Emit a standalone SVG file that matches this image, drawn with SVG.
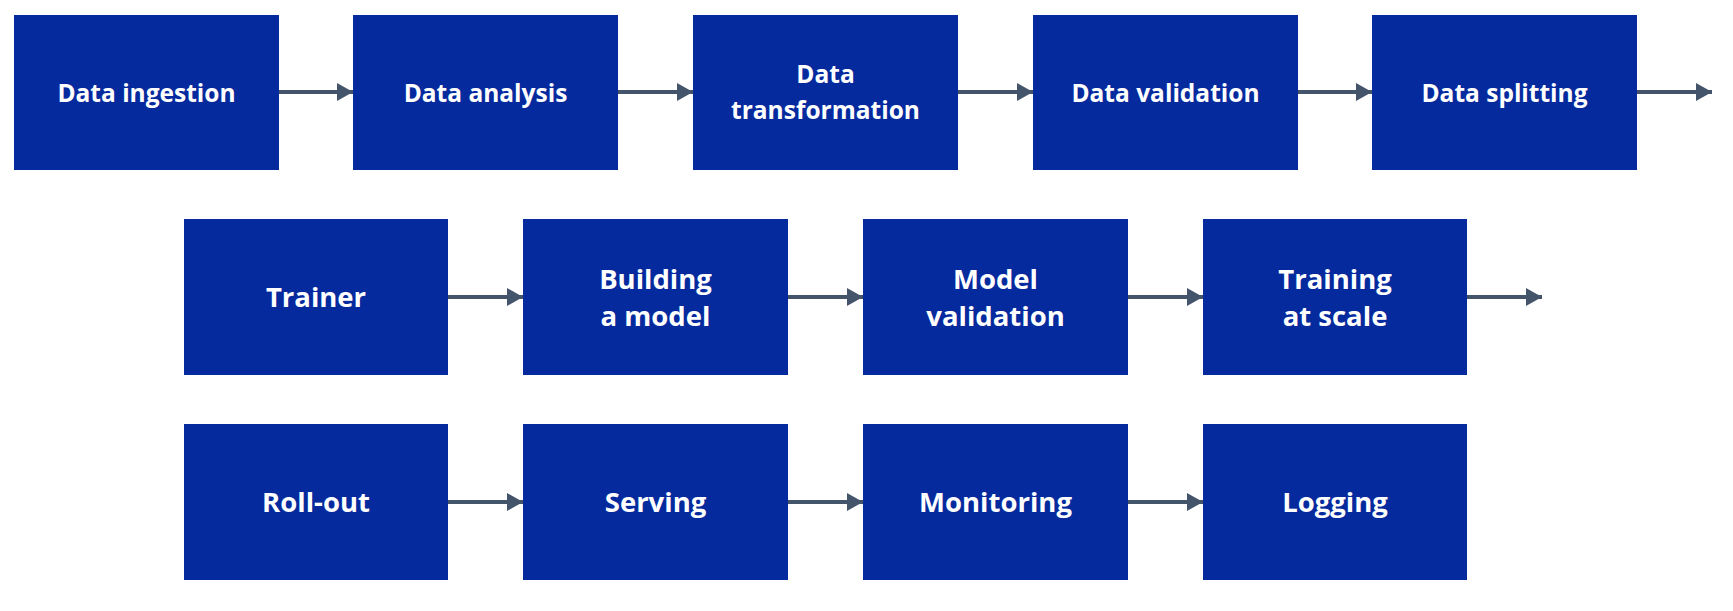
<svg xmlns="http://www.w3.org/2000/svg" width="1733" height="611" viewBox="0 0 1733 611">
<style>
.box{fill:#052A9E}
.t1{font-family:"Open Sans","Noto Sans",sans-serif;font-weight:700;font-size:24.5px;fill:#FFFFFF;text-anchor:middle}
.t2{font-family:"Open Sans","Noto Sans",sans-serif;font-weight:700;font-size:27.5px;fill:#FFFFFF;text-anchor:middle}
.c{stroke:#44546A;stroke-width:4;fill:none}
</style>
<defs>
<marker id="ah" markerUnits="userSpaceOnUse" markerWidth="16" markerHeight="18" refX="16" refY="9" orient="auto">
<polygon points="0,0 16,9 0,18" fill="#44546A"/>
</marker>
</defs>
<rect width="1733" height="611" fill="#FFFFFF"/>
<g id="connectors">
<line class="c" x1="279" y1="92" x2="353" y2="92" marker-end="url(#ah)"/>
<line class="c" x1="618" y1="92" x2="693" y2="92" marker-end="url(#ah)"/>
<line class="c" x1="958" y1="92" x2="1033" y2="92" marker-end="url(#ah)"/>
<line class="c" x1="1298" y1="92" x2="1372" y2="92" marker-end="url(#ah)"/>
<line class="c" x1="1637" y1="92" x2="1712" y2="92" marker-end="url(#ah)"/>
<line class="c" x1="448" y1="297" x2="523" y2="297" marker-end="url(#ah)"/>
<line class="c" x1="788" y1="297" x2="863" y2="297" marker-end="url(#ah)"/>
<line class="c" x1="1128" y1="297" x2="1203" y2="297" marker-end="url(#ah)"/>
<line class="c" x1="1467" y1="297" x2="1542" y2="297" marker-end="url(#ah)"/>
<line class="c" x1="448" y1="502" x2="523" y2="502" marker-end="url(#ah)"/>
<line class="c" x1="788" y1="502" x2="863" y2="502" marker-end="url(#ah)"/>
<line class="c" x1="1128" y1="502" x2="1203" y2="502" marker-end="url(#ah)"/>
</g>
<g id="n1"><rect class="box" x="14" y="15" width="265" height="155"/><text class="t1" x="146.5" y="102">Data ingestion</text></g>
<g id="n2"><rect class="box" x="353" y="15" width="265" height="155"/><text class="t1" x="485.5" y="102">Data analysis</text></g>
<g id="n3"><rect class="box" x="693" y="15" width="265" height="155"/><text class="t1" x="825.5" y="83">Data</text><text class="t1" x="825.5" y="119">transformation</text></g>
<g id="n4"><rect class="box" x="1033" y="15" width="265" height="155"/><text class="t1" x="1165.5" y="102">Data validation</text></g>
<g id="n5"><rect class="box" x="1372" y="15" width="265" height="155"/><text class="t1" x="1504.5" y="102">Data splitting</text></g>
<g id="n6"><rect class="box" x="184" y="219" width="264" height="156"/><text class="t2" x="316" y="307">Trainer</text></g>
<g id="n7"><rect class="box" x="523" y="219" width="265" height="156"/><text class="t2" x="655.5" y="289">Building</text><text class="t2" x="655.5" y="326">a model</text></g>
<g id="n8"><rect class="box" x="863" y="219" width="265" height="156"/><text class="t2" x="995.5" y="289">Model</text><text class="t2" x="995.5" y="326">validation</text></g>
<g id="n9"><rect class="box" x="1203" y="219" width="264" height="156"/><text class="t2" x="1335" y="289">Training</text><text class="t2" x="1335" y="326">at scale</text></g>
<g id="n10"><rect class="box" x="184" y="424" width="264" height="156"/><text class="t2" x="316" y="512">Roll-out</text></g>
<g id="n11"><rect class="box" x="523" y="424" width="265" height="156"/><text class="t2" x="655.5" y="512">Serving</text></g>
<g id="n12"><rect class="box" x="863" y="424" width="265" height="156"/><text class="t2" x="995.5" y="512">Monitoring</text></g>
<g id="n13"><rect class="box" x="1203" y="424" width="264" height="156"/><text class="t2" x="1335" y="512">Logging</text></g>
</svg>
